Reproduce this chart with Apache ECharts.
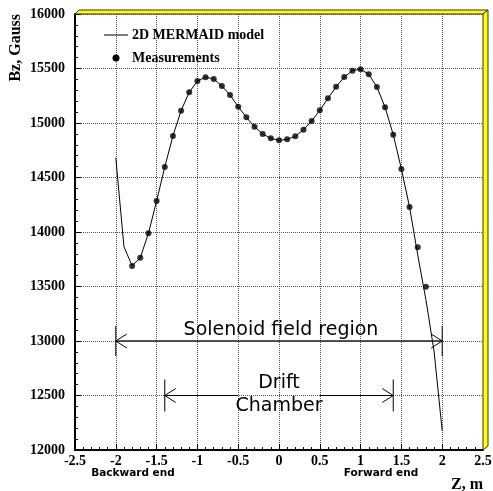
<!DOCTYPE html>
<html><head><meta charset="utf-8">
<script src="https://cdn.jsdelivr.net/npm/echarts@6/dist/echarts.min.js"></script>
<style>html,body{margin:0;padding:0;background:#fff}#c{width:493px;height:491px}</style>
</head><body><div id="c"></div>
<script>
// ---- data ----
const measZ = [-1.8,-1.7,-1.6,-1.5,-1.4,-1.3,-1.2,-1.1,-1.0,-0.9,-0.8,-0.7,-0.6,-0.5,-0.4,-0.3,-0.2,-0.1,0.0,0.1,0.2,0.3,0.4,0.5,0.6,0.7,0.8,0.9,1.0,1.1,1.2,1.3,1.4,1.5,1.6,1.7,1.8];
const measBz = [13688,13764,13988,14284,14596,14881,15113,15282,15385,15419,15404,15339,15257,15150,15052,14966,14899,14859,14841,14850,14878,14939,15018,15116,15226,15333,15422,15480,15493,15447,15330,15144,14893,14578,14229,13860,13498];
const modelZ = [-2.0,-1.9,-1.8,-1.7,-1.6,-1.5,-1.4,-1.3,-1.2,-1.1,-1.0,-0.9,-0.8,-0.7,-0.6,-0.5,-0.4,-0.3,-0.2,-0.1,0.0,0.1,0.2,0.3,0.4,0.5,0.6,0.7,0.8,0.9,1.0,1.1,1.2,1.3,1.4,1.5,1.6,1.7,1.8,1.9,2.0];
const modelBz = [14680,13865,13690,13764,13988,14284,14596,14881,15113,15282,15385,15420,15404,15339,15257,15150,15052,14966,14899,14859,14841,14850,14878,14939,15018,15116,15226,15333,15422,15480,15493,15447,15330,15144,14893,14578,14229,13790,13380,12908,12177];
const xTicks = [-2.5,2.5,0.5];      // min, max, step
const yTicks = [12000,16000,500];   // min, max, step
const seriesNames = ['2D MERMAID model','Measurements'];
const solenoid = {z0:-2, z1:2, bz:13000, label:'Solenoid field region'};
const drift = {z0:-1.4, z1:1.4, bz:12500, label:['Drift','Chamber']};
const endLabels = [{z:-1.79, text:'Backward end'},{z:1.25, text:'Forward end'}];

const chart = echarts.init(document.getElementById('c'));
const serif = 'Liberation Serif';
const grid = {left:75, right:10, top:14, bottom:41, containLabel:false, outerBoundsMode:'none'};
const dots = {color:'#555', type:[1,1], width:1};
chart.setOption({
  animation:false,
  grid: grid,
  xAxis: {
    type:'value', min:xTicks[0], max:xTicks[1], interval:xTicks[2],
    axisLine:{show:true, onZero:false, lineStyle:{color:'#000', width:2}},
    axisTick:{show:true, inside:true, length:6, lineStyle:{color:'#000'}},
    minorTick:{show:true, splitNumber:5, length:3, lineStyle:{color:'#000'}},
    splitLine:{show:true, lineStyle:dots},
    axisLabel:{fontFamily:serif, fontWeight:'bold', fontSize:14, color:'#000', margin:4,
      formatter: v => String(Math.round(v*10)/10)},
    name:'Z, m', nameLocation:'end', nameGap:0,
    nameTextStyle:{fontFamily:serif, fontWeight:'bold', fontSize:16, color:'#000',
      align:'right', verticalAlign:'top', padding:[27,0,0,0]}
  },
  yAxis: {
    type:'value', min:yTicks[0], max:yTicks[1], interval:yTicks[2],
    axisLine:{show:true, onZero:false, lineStyle:{color:'#000', width:2}},
    axisTick:{show:true, inside:true, length:6, lineStyle:{color:'#000'}},
    minorTick:{show:true, splitNumber:5, length:3, lineStyle:{color:'#000'}},
    splitLine:{show:true, lineStyle:dots},
    axisLabel:{fontFamily:serif, fontWeight:'bold', fontSize:14, color:'#000', margin:10,
      formatter: v => String(v)},
    name:'Bz, Gauss', nameLocation:'end', nameRotate:90, nameGap:0,
    nameTextStyle:{fontFamily:serif, fontWeight:'bold', fontSize:16, color:'#000',
      align:'right', verticalAlign:'bottom', padding:[0,0,51,0]}
  },
  series: [
    {name:seriesNames[0], type:'line', symbol:'none', z:3,
     lineStyle:{color:'#000', width:1}, itemStyle:{color:'#000'},
     data: modelZ.map((z,i)=>[z, modelBz[i]])},
    {name:seriesNames[1], type:'scatter', symbol:'circle', symbolSize:6, z:4,
     itemStyle:{color:'#000'},
     data: measZ.map((z,i)=>[z, measBz[i]])}
  ]
});

function px(z, b){ return chart.convertToPixel({gridIndex:0}, [z, b]); }
const g = [];
const L = grid.left, T = grid.top, R = 493 - grid.right, B = 491 - grid.bottom;
// ROOT-style yellow frame
g.push({type:'polygon', shape:{points:[[L,T],[L+4,T-4],[R+5,T-4],[R,T]]},
  style:{fill:'#ffff00', stroke:'#333', lineWidth:1}, z:10});
g.push({type:'polygon', shape:{points:[[R,T],[R+5,T-4],[R+5,B-4],[R,B]]},
  style:{fill:'#ffff00', stroke:'#333', lineWidth:1}, z:10});

// Legend (drawn)
g.push({type:'line', shape:{x1:104,y1:35,x2:128,y2:35}, style:{stroke:'#000', lineWidth:1}, z:8});
g.push({type:'circle', shape:{cx:116,cy:58,r:3.5}, style:{fill:'#000'}, z:8});
g.push({type:'text', x:132, y:35, style:{text:seriesNames[0], font:'bold 14px "Liberation Serif"', fill:'#000', verticalAlign:'middle'}, z:8});
g.push({type:'text', x:132, y:58, style:{text:seriesNames[1], font:'bold 14px "Liberation Serif"', fill:'#000', verticalAlign:'middle'}, z:8});

function arrowHead(x, y, dir){ // dir -1 pointing left, +1 pointing right
  return {type:'polyline', shape:{points:[[x-dir*11,y-7],[x,y],[x-dir*11,y+7]]},
    style:{stroke:'#000', lineWidth:1, fill:null}, z:6};
}
function bar(x, y, h){ return {type:'line', shape:{x1:x,y1:y-h,x2:x,y2:y+h}, style:{stroke:'#000', lineWidth:1}, z:6}; }

// Solenoid arrow
{
  const a = px(solenoid.z0, solenoid.bz), b = px(solenoid.z1, solenoid.bz);
  g.push({type:'line', shape:{x1:a[0],y1:a[1],x2:b[0],y2:b[1]}, style:{stroke:'#222', lineWidth:1.5}, z:6});
  g.push(arrowHead(a[0],a[1],-1), arrowHead(b[0],b[1],1), bar(a[0],a[1],15), bar(b[0],b[1],15));
  g.push({type:'text', x:(a[0]+b[0])/2+2, y:a[1]-11, style:{text:solenoid.label, font:'19px "DejaVu Sans"',
    fill:'#000', align:'center', verticalAlign:'middle'}, z:7});
}
// Drift chamber arrow
{
  const a = px(drift.z0, drift.bz), b = px(drift.z1, drift.bz);
  const cx = (a[0]+b[0])/2;
  g.push({type:'line', shape:{x1:a[0],y1:a[1],x2:cx-41,y2:a[1]}, style:{stroke:'#000', lineWidth:1}, z:6});
  g.push({type:'line', shape:{x1:cx+41,y1:b[1],x2:b[0],y2:b[1]}, style:{stroke:'#000', lineWidth:1}, z:6});
  g.push(arrowHead(a[0],a[1],-1), arrowHead(b[0],b[1],1), bar(a[0],a[1],16), bar(b[0],b[1],16));
  g.push({type:'text', x:cx, y:a[1]-12, style:{text:drift.label[0], font:'19px "DejaVu Sans"',
    fill:'#000', align:'center', verticalAlign:'middle'}, z:7});
  g.push({type:'text', x:cx, y:a[1]+11, style:{text:drift.label[1], font:'19px "DejaVu Sans"',
    fill:'#000', align:'center', verticalAlign:'middle'}, z:7});
}
// End labels
endLabels.forEach(e => {
  const p = px(e.z, yTicks[0]);
  g.push({type:'text', x:p[0], y:p[1]+23, style:{text:e.text, font:'bold 10.5px "DejaVu Sans"',
    fill:'#000', align:'center', verticalAlign:'middle'}, z:7});
});
chart.setOption({graphic: g});
</script></body></html>
